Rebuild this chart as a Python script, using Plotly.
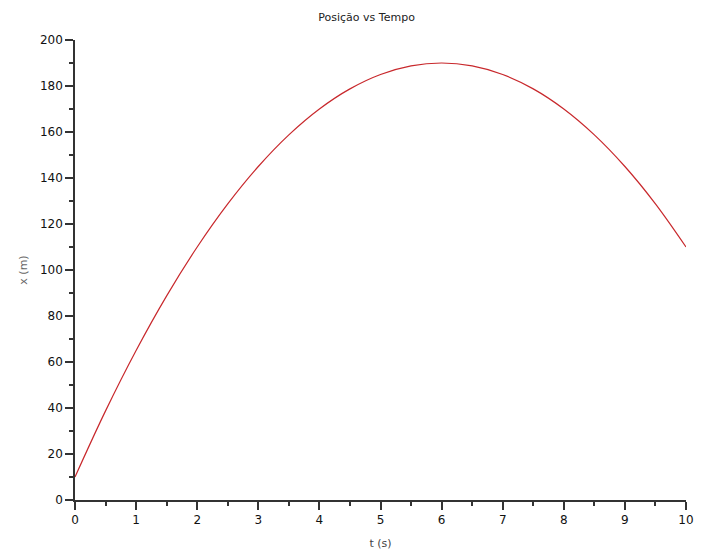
import plotly.graph_objects as go

t = [0, 0.5, 1, 1.5, 2, 2.5, 3, 3.5, 4, 4.5, 5, 5.5, 6, 6.5, 7, 7.5, 8, 8.5, 9, 9.5, 10]
x = [10, 38.75, 65, 88.75, 110, 128.75, 145, 158.75, 170, 178.75, 185, 188.75, 190,
     188.75, 185, 178.75, 170, 158.75, 145, 128.75, 110]

x_ticks = [0, 1, 2, 3, 4, 5, 6, 7, 8, 9, 10]
y_ticks = [0, 20, 40, 60, 80, 100, 120, 140, 160, 180, 200]

fig = go.Figure()
fig.add_trace(go.Scatter(x=t, y=x, mode="lines", line=dict(color="#c8282c", width=1.2, shape="spline")))

axis_common = dict(
    showgrid=False, zeroline=False, showline=True, linecolor="#333333", linewidth=1.5,
    ticks="outside", ticklen=8, tickwidth=1.5, tickcolor="#333333", automargin=False,
    tickfont=dict(family="DejaVu Sans", size=12, color="#111111"),
)

fig.update_layout(
    width=705, height=550,
    margin=dict(l=75, r=19, t=40, b=50),
    plot_bgcolor="white", paper_bgcolor="white",
    showlegend=False,
    title=dict(text="Posição vs Tempo", x=0.52, xanchor="center", y=0.969, yanchor="middle",
               font=dict(family="DejaVu Sans", size=11, color="#222222"), automargin=False),
    xaxis=dict(range=[0, 10], tickvals=x_ticks, ticktext=[str(v) for v in x_ticks],
               title=dict(text="t (s)", font=dict(family="DejaVu Sans", size=11, color="#444444"), standoff=14),
               minor=dict(ticks="outside", ticklen=4, tickwidth=1.5, tickcolor="#333333", dtick=0.5),
               **axis_common),
    yaxis=dict(range=[0, 200], tickvals=y_ticks, ticktext=[str(v) for v in y_ticks],
               title=dict(text="x (m)", font=dict(family="DejaVu Sans", size=11, color="#666666"), standoff=10),
               minor=dict(ticks="outside", ticklen=4, tickwidth=1.5, tickcolor="#333333", dtick=10),
               **axis_common),
)

fig.write_html("out.html", config={"displayModeBar": False},
               post_script="document.body.style.margin='0';document.body.style.overflow='hidden';")
